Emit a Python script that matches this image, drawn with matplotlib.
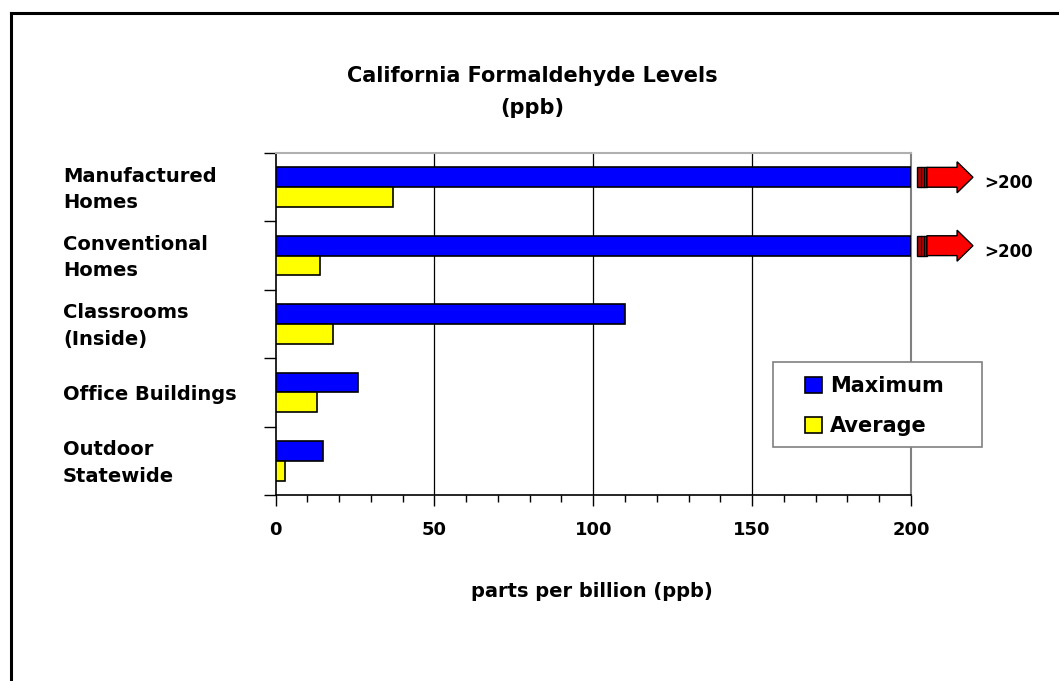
import numpy as np
import matplotlib
matplotlib.use("Agg")
import matplotlib.pyplot as plt
from matplotlib.patches import Polygon, Rectangle
from matplotlib.lines import Line2D
from matplotlib.ticker import MultipleLocator
import matplotlib.transforms as mtransforms

plt.rcParams['font.family'] = ['DejaVu Sans']
plt.rcParams['font.weight'] = 'bold'

# formaldehyde levels in ppb, one row per location type
locations = ['Manufactured\nHomes', 'Conventional\nHomes', 'Classrooms\n(Inside)',
             'Office Buildings', 'Outdoor\nStatewide']
maximum = [200, 200, 110, 26, 15]
average = [37, 14, 18, 13, 3]
# maxima that go past the end of the scale
over_scale = ['>200', '>200', None, None, None]
x_ticks = [0, 50, 100, 150, 200]

W, H = 1059, 681
fig = plt.figure(figsize=(W / 100, H / 100), dpi=100)
ax = fig.add_axes([275.5 / W, 1 - 495 / H, 635.5 / W, 342 / H])

y = np.arange(len(locations))
bar_h = 0.29
ax.barh(y - bar_h / 2, maximum, height=bar_h, color='#0000ff',
        edgecolor='black', linewidth=1.2, label='Maximum', zorder=3)
ax.barh(y + bar_h / 2, average, height=bar_h, color='#ffff00',
        edgecolor='black', linewidth=1.2, label='Average', zorder=3)

# broken-scale arrows for the values beyond 200
for yi, text in zip(y, over_scale):
    if text is None:
        continue
    yc = yi - bar_h / 2
    hh = bar_h / 2
    ax.add_patch(Rectangle((202, yc - hh), 3, 2 * hh, facecolor='#b00000',
                           edgecolor='black', linewidth=1, clip_on=False, zorder=4))
    for xs in (203.0, 204.0):
        ax.add_line(Line2D([xs, xs], [yc - hh, yc + hh], color='black',
                           linewidth=0.8, clip_on=False, zorder=5))
    pts = [(205, yc - hh), (214.5, yc - hh), (214.5, yc - 0.227), (219.5, yc),
           (214.5, yc + 0.227), (214.5, yc + hh), (205, yc + hh)]
    ax.add_patch(Polygon(pts, closed=True, facecolor='#ff0000', edgecolor='black',
                         linewidth=1, clip_on=False, zorder=4))
    ax.text(223.0, yc + 0.09, text, fontsize=12, fontweight='bold',
            ha='left', va='center', clip_on=False)

ax.set_xlim(0, 200)
ax.set_ylim(len(locations) - 0.5, -0.5)

ax.set_xticks(x_ticks)
ax.set_xticklabels([str(t) for t in x_ticks], fontsize=13, fontweight='bold')
ax.xaxis.set_minor_locator(MultipleLocator(10))
ax.tick_params(axis='x', which='major', direction='out', length=8, width=1,
               pad=11, color='black')
ax.tick_params(axis='x', which='minor', direction='out', length=5, width=1,
               color='black')

ax.set_yticks(np.arange(-0.5, len(locations), 1.0))
ax.set_yticklabels([])
ax.tick_params(axis='y', which='major', direction='out', length=9, width=1,
               color='black')

for xt in x_ticks[1:-1]:
    ax.axvline(xt, color='black', linewidth=0.9, zorder=1)

ax.spines['left'].set_color('black')
ax.spines['left'].set_linewidth(1.2)
ax.spines['bottom'].set_color('black')
ax.spines['bottom'].set_linewidth(1.2)
ax.spines['top'].set_color('#b0b0b0')
ax.spines['top'].set_linewidth(1.5)
ax.spines['right'].set_color('#808080')
ax.spines['right'].set_linewidth(1.5)

# category names, left aligned in the margin
trans = mtransforms.blended_transform_factory(fig.transFigure, ax.transData)
for yi, name in zip(y, locations):
    fig.text(63 / W, yi + 0.03, name, transform=trans, fontsize=14,
             fontweight='bold', ha='left', va='center', linespacing=1.5)

ax.set_xlabel('parts per billion (ppb)', fontsize=14, fontweight='bold', va='center')
ax.xaxis.set_label_coords(0.498, -0.281)

fig.text(532 / W, 1 - 92 / H, 'California Formaldehyde Levels\n(ppb)',
         fontsize=15, fontweight='bold', ha='center', va='center',
         multialignment='center', linespacing=1.75)

# legend: frameless entries inside a separately drawn box
fig.add_artist(Rectangle((773 / W, 1 - 447 / H), 209 / W, 85 / H,
                         transform=fig.transFigure, facecolor='white',
                         edgecolor='#808080', linewidth=1.2, zorder=5))
leg = fig.legend(loc='upper left', bbox_to_anchor=(805 / W, 1 - 376 / H),
                 borderaxespad=0, borderpad=0, fontsize=15, frameon=False,
                 handlelength=0.8, handleheight=0.8, handletextpad=0.4,
                 labelspacing=0.95)
leg.set_zorder(6)
for t in leg.get_texts():
    t.set_fontweight('bold')

# outer chart frame (runs off the right and bottom edges)
fig.add_artist(Line2D([10.8 / W, 10.8 / W], [0, 1 - 13.2 / H], color='black',
                      linewidth=2.2, transform=fig.transFigure))
fig.add_artist(Line2D([10.8 / W, 1], [1 - 13.2 / H, 1 - 13.2 / H], color='black',
                      linewidth=2.2, transform=fig.transFigure))

fig.savefig('out.png', dpi=100)
